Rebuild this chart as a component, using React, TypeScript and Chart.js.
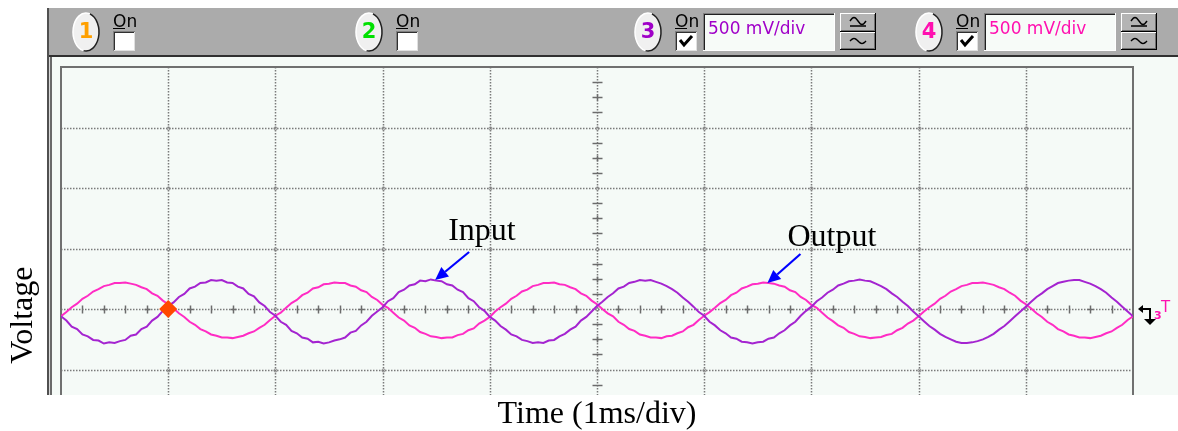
import React, { useEffect, useRef } from "react";
import { Chart, registerables } from "chart.js";

Chart.register(...registerables);

// ---------- data (divisions: 1 div = 1 ms horizontally, 500 mV vertically) ----------
const TIME_STEP_DIV = 0.05;
const X_MIN = 0;
const X_MAX = 10;
const Y_MIN = -1.42;
const Y_MAX = 4;
const X_GRID = [1, 2, 3, 4, 5, 6, 7, 8, 9];
const Y_GRID = [-1, 0, 1, 2, 3];

// Input trace (channel 3, purple)
const INPUT_DIV = [
  -0.12, -0.19, -0.29, -0.33, -0.42, -0.45, -0.51, -0.52, -0.57, -0.55,
  -0.56, -0.53, -0.51, -0.44, -0.42, -0.33, -0.29, -0.19, -0.13, -0.03,
  0.05, 0.11, 0.20, 0.25, 0.34, 0.37, 0.43, 0.44, 0.48, 0.47,
  0.48, 0.44, 0.43, 0.37, 0.34, 0.25, 0.21, 0.11, 0.05, -0.05,
  -0.11, -0.21, -0.26, -0.36, -0.40, -0.47, -0.49, -0.55, -0.54, -0.57,
  -0.55, -0.52, -0.50, -0.47, -0.39, -0.36, -0.27, -0.21, -0.11, -0.04,
  0.03, 0.13, 0.18, 0.28, 0.32, 0.39, 0.41, 0.47, 0.46, 0.49,
  0.47, 0.46, 0.41, 0.39, 0.32, 0.28, 0.18, 0.13, 0.03, -0.03,
  -0.13, -0.19, -0.28, -0.34, -0.42, -0.45, -0.51, -0.53, -0.56, -0.55,
  -0.56, -0.52, -0.51, -0.45, -0.41, -0.34, -0.29, -0.19, -0.13, -0.04,
  0.05, 0.12, 0.20, 0.26, 0.34, 0.37, 0.43, 0.45, 0.48, 0.47,
  0.48, 0.45, 0.42, 0.38, 0.33, 0.27, 0.19, 0.12, 0.04, -0.05,
  -0.11, -0.21, -0.27, -0.35, -0.40, -0.47, -0.49, -0.54, -0.55, -0.57,
  -0.55, -0.54, -0.49, -0.47, -0.40, -0.35, -0.27, -0.21, -0.11, -0.03,
  0.04, 0.13, 0.19, 0.27, 0.32, 0.39, 0.42, 0.46, 0.47, 0.49,
  0.47, 0.46, 0.42, 0.38, 0.33, 0.26, 0.20, 0.12, 0.05, -0.04,
  -0.12, -0.20, -0.28, -0.34, -0.41, -0.46, -0.50, -0.54, -0.56, -0.56,
  -0.55, -0.53, -0.50, -0.46, -0.41, -0.34, -0.28, -0.20, -0.12, -0.04,
  0.04, 0.12, 0.20, 0.26, 0.33, 0.38, 0.43, 0.45, 0.47, 0.48,
  0.48, 0.45, 0.42, 0.38, 0.33, 0.27, 0.19, 0.12, 0.04, -0.04,
  -0.12,
];

// Output trace (channel 4, pink)
const OUTPUT_DIV = [
  -0.12, -0.05, 0.03, 0.09, 0.17, 0.22, 0.29, 0.33, 0.38, 0.40,
  0.43, 0.43, 0.44, 0.42, 0.40, 0.36, 0.33, 0.26, 0.22, 0.14,
  0.08, 0.01, -0.07, -0.13, -0.21, -0.26, -0.33, -0.37, -0.42, -0.44,
  -0.47, -0.47, -0.48, -0.46, -0.44, -0.40, -0.37, -0.31, -0.26, -0.18,
  -0.11, -0.06, 0.02, 0.10, 0.15, 0.23, 0.27, 0.34, 0.36, 0.41,
  0.42, 0.44, 0.43, 0.43, 0.39, 0.37, 0.31, 0.28, 0.20, 0.15,
  0.07, 0.02, -0.06, -0.14, -0.19, -0.27, -0.31, -0.38, -0.41, -0.45,
  -0.46, -0.48, -0.47, -0.47, -0.43, -0.41, -0.35, -0.32, -0.24, -0.19,
  -0.13, -0.04, 0.03, 0.09, 0.17, 0.22, 0.29, 0.32, 0.38, 0.40,
  0.43, 0.43, 0.44, 0.41, 0.40, 0.36, 0.33, 0.26, 0.22, 0.14,
  0.08, 0.00, -0.07, -0.12, -0.21, -0.26, -0.33, -0.36, -0.42, -0.44,
  -0.47, -0.47, -0.48, -0.45, -0.44, -0.40, -0.37, -0.30, -0.26, -0.18,
  -0.11, -0.05, 0.02, 0.10, 0.15, 0.23, 0.27, 0.34, 0.37, 0.41,
  0.42, 0.44, 0.43, 0.42, 0.39, 0.37, 0.31, 0.28, 0.20, 0.15,
  0.07, 0.02, -0.06, -0.14, -0.20, -0.27, -0.31, -0.38, -0.41, -0.45,
  -0.46, -0.48, -0.47, -0.46, -0.43, -0.41, -0.35, -0.31, -0.24, -0.19,
  -0.12, -0.04, 0.03, 0.09, 0.17, 0.22, 0.29, 0.33, 0.38, 0.40,
  0.43, 0.43, 0.44, 0.42, 0.40, 0.36, 0.33, 0.27, 0.22, 0.14,
  0.08, 0.01, -0.07, -0.13, -0.21, -0.26, -0.33, -0.37, -0.42, -0.44,
  -0.47, -0.47, -0.48, -0.46, -0.44, -0.40, -0.37, -0.31, -0.26, -0.18,
  -0.12,
];

const TRIGGER_POINT = [{ x: 1, y: 0 }];

const CHANNEL_NUMBERS = ["1", "2", "3", "4"];
const CHANNEL_COLORS = ["#ffa000", "#00e000", "#a000c8", "#ff10b0"];
const CHANNEL_ON = [false, false, true, true];
const CHANNEL_SCALES = ["", "", "500 mV/div", "500 mV/div"];
const CHANNEL_OFFSETS = [0, 283, 562, 843];

const X_TITLE = "Time (1ms/div)";
const Y_TITLE = "Voltage";
const INPUT_LABEL = "Input";
const OUTPUT_LABEL = "Output";
const INPUT_ARROW_TIP = { x: 3.49, y: 0.48 };
const OUTPUT_ARROW_TIP = { x: 6.59, y: 0.43 };

const W = 1178;
const H = 431;

const BG = "#f5faf7";
const PANEL = "#ababab";
const INPUT_COLOR = "#a424d0";
const OUTPUT_COLOR = "#ff2cc4";

function drawArrow(ctx: CanvasRenderingContext2D, x1: number, y1: number, x2: number, y2: number) {
  const ang = Math.atan2(y2 - y1, x2 - x1);
  const hl = 13;
  const hw = 6;
  const bx = x2 - hl * Math.cos(ang);
  const by = y2 - hl * Math.sin(ang);
  ctx.strokeStyle = "#0000ff";
  ctx.fillStyle = "#0000ff";
  ctx.lineWidth = 2.2;
  ctx.beginPath();
  ctx.moveTo(x1, y1);
  ctx.lineTo(bx, by);
  ctx.stroke();
  ctx.beginPath();
  ctx.moveTo(x2, y2);
  ctx.lineTo(bx + hw * Math.sin(ang), by - hw * Math.cos(ang));
  ctx.lineTo(bx - hw * Math.sin(ang), by + hw * Math.cos(ang));
  ctx.closePath();
  ctx.fill();
}

function drawRaisedButton(ctx: CanvasRenderingContext2D, x: number, y: number, w: number, h: number) {
  ctx.fillStyle = "#b4b4b4";
  ctx.fillRect(x, y, w, h);
  ctx.fillStyle = "#ffffff";
  ctx.fillRect(x, y, w, 1);
  ctx.fillRect(x, y, 1, h);
  ctx.fillStyle = "#000000";
  ctx.fillRect(x, y + h - 1, w, 1);
  ctx.fillRect(x + w - 1, y, 1, h);
  ctx.fillStyle = "#707070";
  ctx.fillRect(x + 1, y + h - 2, w - 2, 1);
  ctx.fillRect(x + w - 2, y + 1, 1, h - 2);
}

function drawWave(ctx: CanvasRenderingContext2D, cx: number, cy: number, halfW: number, amp: number) {
  ctx.beginPath();
  for (let i = 0; i <= 20; i++) {
    const t = i / 20;
    const px = cx - halfW + t * 2 * halfW;
    const py = cy - amp * Math.sin(t * Math.PI * 2);
    if (i === 0) ctx.moveTo(px, py);
    else ctx.lineTo(px, py);
  }
  ctx.stroke();
}

function drawHeader(ctx: CanvasRenderingContext2D) {
  for (let c = 0; c < 4; c++) {
    const off = CHANNEL_OFFSETS[c];
    // oval button
    const ox = 86 + off;
    const oy = 32;
    ctx.fillStyle = "#f0f0f0";
    ctx.beginPath();
    ctx.ellipse(ox, oy, 13, 19, 0, 0, Math.PI * 2);
    ctx.fill();
    ctx.lineWidth = 1.5;
    ctx.strokeStyle = "#202020";
    ctx.beginPath();
    ctx.ellipse(ox, oy, 13, 19, 0, -Math.PI / 2 + 0.3, Math.PI / 2 + 0.2);
    ctx.stroke();
    ctx.strokeStyle = "#ffffff";
    ctx.beginPath();
    ctx.ellipse(ox, oy, 13, 19, 0, Math.PI / 2 + 0.2, Math.PI * 1.5 + 0.3);
    ctx.stroke();
    ctx.fillStyle = CHANNEL_COLORS[c];
    ctx.font = "bold 21px 'DejaVu Sans', sans-serif";
    ctx.textAlign = "center";
    ctx.textBaseline = "middle";
    ctx.fillText(CHANNEL_NUMBERS[c], ox, oy + 1);

    // "On" label
    const onx = 113 + off;
    ctx.fillStyle = "#000";
    ctx.font = "17px 'DejaVu Sans', sans-serif";
    ctx.textAlign = "left";
    ctx.textBaseline = "alphabetic";
    ctx.fillText("On", onx, 27);
    ctx.fillRect(onx, 28, 12, 1);

    // checkbox
    const cbx = onx;
    const cby = 31;
    ctx.fillStyle = "#ffffff";
    ctx.fillRect(cbx, cby, 22, 20);
    ctx.fillStyle = "#808080";
    ctx.fillRect(cbx, cby, 22, 1);
    ctx.fillRect(cbx, cby, 1, 20);
    ctx.fillStyle = "#303030";
    ctx.fillRect(cbx + 1, cby + 1, 20, 1);
    ctx.fillRect(cbx + 1, cby + 1, 1, 18);
    ctx.fillStyle = "#e0e0e0";
    ctx.fillRect(cbx + 1, cby + 19, 21, 1);
    ctx.fillRect(cbx + 21, cby + 1, 1, 19);
    if (CHANNEL_ON[c]) {
      ctx.strokeStyle = "#000";
      ctx.lineWidth = 3;
      ctx.beginPath();
      ctx.moveTo(cbx + 5, cby + 9);
      ctx.lineTo(cbx + 9, cby + 14);
      ctx.lineTo(cbx + 17, cby + 5);
      ctx.stroke();
    }

    if (CHANNEL_SCALES[c]) {
      // text box
      const tx = onx + 28;
      const ty = 13;
      const tw = 132;
      const th = 38;
      ctx.fillStyle = "#f7fbf8";
      ctx.fillRect(tx, ty, tw, th);
      ctx.fillStyle = "#808080";
      ctx.fillRect(tx, ty, tw, 1);
      ctx.fillRect(tx, ty, 1, th);
      ctx.fillStyle = "#202020";
      ctx.fillRect(tx + 1, ty + 1, tw - 2, 1);
      ctx.fillRect(tx + 1, ty + 1, 1, th - 2);
      ctx.fillStyle = "#ffffff";
      ctx.fillRect(tx, ty + th - 1, tw, 1);
      ctx.fillRect(tx + tw - 1, ty, 1, th);
      ctx.fillStyle = CHANNEL_COLORS[c];
      ctx.font = "17px 'DejaVu Sans', sans-serif";
      ctx.textBaseline = "middle";
      ctx.fillText(CHANNEL_SCALES[c], tx + 5, ty + 17);

      // buttons
      const bx = tx + tw + 5;
      drawRaisedButton(ctx, bx, 13, 36, 19);
      drawRaisedButton(ctx, bx, 32, 36, 18);
      ctx.strokeStyle = "#000";
      ctx.lineWidth = 1.5;
      drawWave(ctx, bx + 18, 21, 8, 3.5);
      ctx.beginPath();
      ctx.moveTo(bx + 10, 26);
      ctx.lineTo(bx + 26, 26);
      ctx.stroke();
      drawWave(ctx, bx + 18, 41, 8, 2.5);
    }
  }
}

const scopePlugin = {
  id: "scopePlugin",
  beforeDraw(chart: any) {
    const { ctx, chartArea } = chart;
    const xs = chart.scales.x;
    const ys = chart.scales.y;
    const L = chartArea.left;
    const R = chartArea.right;
    const T = chartArea.top;
    const B = chartArea.bottom;
    ctx.save();
    ctx.fillStyle = "#ffffff";
    ctx.fillRect(0, 0, W, H);

    // instrument panel
    ctx.fillStyle = PANEL;
    ctx.fillRect(47, 8, W - 47, 48);
    ctx.fillStyle = BG;
    ctx.fillRect(50, 56, W - 50, B - 56);
    ctx.fillStyle = "#303030";
    ctx.fillRect(49, 55, W - 49, 2);
    ctx.fillStyle = "#505050";
    ctx.fillRect(47, 8, 2, B - 8);
    ctx.fillStyle = "#d8d8d8";
    ctx.fillRect(49, 57, 1, B - 57);
    ctx.fillStyle = "#6a6a6a";
    ctx.fillRect(50, 57, 2, B - 57);

    drawHeader(ctx);

    // dotted grid
    ctx.strokeStyle = "#7a7a7a";
    ctx.lineWidth = 1.5;
    ctx.setLineDash([1.5, 1.5]);
    for (const g of X_GRID) {
      const x = Math.round(xs.getPixelForValue(g)) + 0.5;
      ctx.beginPath();
      ctx.moveTo(x, T);
      ctx.lineTo(x, B);
      ctx.stroke();
    }
    for (const g of Y_GRID) {
      const y = Math.round(ys.getPixelForValue(g)) + 0.5;
      ctx.beginPath();
      ctx.moveTo(L, y);
      ctx.lineTo(R, y);
      ctx.stroke();
    }
    ctx.setLineDash([]);

    // intersections
    ctx.strokeStyle = "#8a8a8a";
    ctx.lineWidth = 1;
    for (const gx of X_GRID) {
      for (const gy of Y_GRID) {
        const x = Math.round(xs.getPixelForValue(gx)) + 0.5;
        const y = Math.round(ys.getPixelForValue(gy)) + 0.5;
        ctx.beginPath();
        ctx.arc(x, y, 1.6, 0, Math.PI * 2);
        ctx.stroke();
      }
    }

    // minor ticks on the centre axes
    const y0 = Math.round(ys.getPixelForValue(0)) + 0.5;
    const x0 = Math.round(xs.getPixelForValue(5)) + 0.5;
    ctx.strokeStyle = "#6c6c6c";
    ctx.lineWidth = 1.5;
    for (let i = 1; i < 50; i++) {
      if (i % 5 === 0) continue;
      const x = Math.round(xs.getPixelForValue(i * 0.2)) + 0.5;
      ctx.beginPath();
      ctx.moveTo(x, y0 - 4);
      ctx.lineTo(x, y0 + 4);
      if (i % 2 === 0) {
        ctx.moveTo(x - 3, y0);
        ctx.lineTo(x + 3, y0);
      }
      ctx.stroke();
    }
    for (let j = -5; j < 16; j++) {
      if (j % 4 === 0) continue;
      const v = j * 0.25;
      const y = Math.round(ys.getPixelForValue(v)) + 0.5;
      if (y > B) continue;
      ctx.beginPath();
      ctx.moveTo(x0 - 5, y);
      ctx.lineTo(x0 + 5, y);
      if (Math.abs(j) % 2 === 0) {
        ctx.moveTo(x0, y - 3);
        ctx.lineTo(x0, y + 3);
      }
      ctx.stroke();
    }

    // frame
    ctx.strokeStyle = "#707070";
    ctx.lineWidth = 2;
    ctx.beginPath();
    ctx.moveTo(L, B);
    ctx.lineTo(L, T);
    ctx.lineTo(R, T);
    ctx.lineTo(R, B);
    ctx.stroke();
    ctx.restore();
  },
  afterDatasetsDraw(chart: any) {
    const { ctx, chartArea } = chart;
    const xs = chart.scales.x;
    const ys = chart.scales.y;
    ctx.save();

    // annotations
    ctx.fillStyle = "#000";
    ctx.font = "32px 'Liberation Serif', 'Times New Roman', serif";
    ctx.textAlign = "left";
    ctx.textBaseline = "alphabetic";
    const ix = xs.getPixelForValue(INPUT_ARROW_TIP.x);
    const iy = ys.getPixelForValue(INPUT_ARROW_TIP.y);
    ctx.fillText(INPUT_LABEL, ix + 13, iy - 40);
    drawArrow(ctx, ix + 34, iy - 28, ix, iy);
    const ox = xs.getPixelForValue(OUTPUT_ARROW_TIP.x);
    const oy = ys.getPixelForValue(OUTPUT_ARROW_TIP.y);
    ctx.fillStyle = "#000";
    ctx.fillText(OUTPUT_LABEL, ox + 20, oy - 37);
    drawArrow(ctx, ox + 33, oy - 29, ox, oy);

    // trigger level marker
    const ty = ys.getPixelForValue(0);
    const tx = chartArea.right + 17;
    ctx.strokeStyle = "#000";
    ctx.fillStyle = "#000";
    ctx.lineWidth = 2;
    ctx.beginPath();
    ctx.moveTo(tx - 8, ty);
    ctx.lineTo(tx, ty);
    ctx.lineTo(tx, ty + 11);
    ctx.stroke();
    ctx.beginPath();
    ctx.moveTo(tx - 12, ty);
    ctx.lineTo(tx - 7, ty - 4);
    ctx.lineTo(tx - 7, ty + 4);
    ctx.closePath();
    ctx.fill();
    ctx.beginPath();
    ctx.moveTo(tx - 6, ty + 10);
    ctx.lineTo(tx + 6, ty + 10);
    ctx.lineTo(tx, ty + 16);
    ctx.closePath();
    ctx.fill();
    ctx.fillStyle = CHANNEL_COLORS[3];
    ctx.font = "bold 11px 'DejaVu Sans', sans-serif";
    ctx.fillText("3", tx + 4, ty + 10);
    ctx.font = "15px 'DejaVu Sans', sans-serif";
    ctx.fillText("T", tx + 11, ty + 3);

    // axis titles
    ctx.fillStyle = "#000";
    ctx.font = "32px 'Liberation Serif', 'Times New Roman', serif";
    ctx.textAlign = "center";
    ctx.fillText(X_TITLE, xs.getPixelForValue(5), 423);
    ctx.translate(32, ys.getPixelForValue(-0.1));
    ctx.rotate(-Math.PI / 2);
    ctx.fillText(Y_TITLE, 0, 0);
    ctx.restore();
  },
};

export default function App() {
  const canvasRef = useRef<HTMLCanvasElement | null>(null);

  useEffect(() => {
    const canvas = canvasRef.current;
    if (!canvas) return;
    const inputPts = INPUT_DIV.map((v, i) => ({ x: i * TIME_STEP_DIV, y: v }));
    const outputPts = OUTPUT_DIV.map((v, i) => ({ x: i * TIME_STEP_DIV, y: v }));
    const chart = new Chart(canvas, {
      type: "line",
      data: {
        datasets: [
          {
            label: "Trigger",
            data: TRIGGER_POINT,
            showLine: false,
            pointStyle: "rectRot",
            pointRadius: 9,
            pointBackgroundColor: "#ff4800",
            pointBorderColor: "#ff4800",
            pointBorderWidth: 0,
            order: 0,
          },
          {
            label: "Input",
            data: inputPts,
            borderColor: INPUT_COLOR,
            borderWidth: 2,
            pointRadius: 0,
            tension: 0,
            order: 1,
          },
          {
            label: "Output",
            data: outputPts,
            borderColor: OUTPUT_COLOR,
            borderWidth: 2,
            pointRadius: 0,
            tension: 0,
            order: 2,
          },
        ],
      },
      options: {
        responsive: false,
        maintainAspectRatio: false,
        animation: false,
        devicePixelRatio: 1,
        events: [],
        layout: { padding: { left: 61, top: 67, right: W - 1133, bottom: H - 395 } },
        plugins: { legend: { display: false }, tooltip: { enabled: false } },
        scales: {
          x: { type: "linear", min: X_MIN, max: X_MAX, display: false },
          y: { type: "linear", min: Y_MIN, max: Y_MAX, display: false },
        },
      },
      plugins: [scopePlugin],
    });
    return () => chart.destroy();
  }, []);

  return (
    <div style={{ position: "absolute", left: 0, top: 0, width: W, height: H }}>
      <canvas ref={canvasRef} width={W} height={H} style={{ display: "block", width: W, height: H }} />
    </div>
  );
}
